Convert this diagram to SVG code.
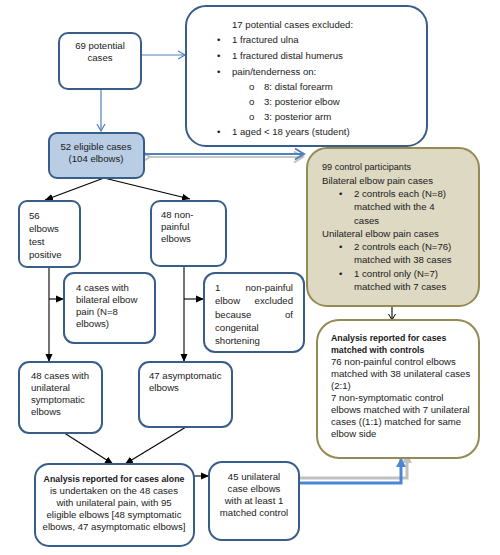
<svg xmlns="http://www.w3.org/2000/svg" width="500" height="555" viewBox="0 0 500 555">
<style>
text{font-family:"Liberation Sans",Arial,sans-serif;font-size:9.6px;fill:#1a1a1a}
.b{font-weight:bold;font-size:8.8px}
.s{font-size:9.1px}
.c{text-anchor:middle}
.r{text-anchor:end}
.bn{fill:#fff;stroke:#385d8a;stroke-width:2}
.ol{fill:#fff;stroke:#948a54;stroke-width:2}
.blk{stroke:#000;stroke-width:1.1;fill:none}
.bl{stroke:#4f81bd;stroke-width:1.2;fill:none}
</style>
<defs>
<marker id="bo" markerWidth="10" markerHeight="10" refX="8" refY="5" orient="auto" markerUnits="userSpaceOnUse"><path d="M1,1 L8,5 L1,9" fill="none" stroke="#4f81bd" stroke-width="1.2"/></marker>
<marker id="bo2" markerWidth="14" markerHeight="14" refX="11" refY="7" orient="auto" markerUnits="userSpaceOnUse"><path d="M2,1.5 L11,7 L2,12.5" fill="none" stroke="#4f81bd" stroke-width="2"/></marker>
<marker id="go2" markerWidth="14" markerHeight="14" refX="11" refY="7" orient="auto" markerUnits="userSpaceOnUse"><path d="M2,1.5 L11,7 L2,12.5" fill="none" stroke="#c0c0c0" stroke-width="2"/></marker>
<marker id="kf" markerWidth="10" markerHeight="10" refX="8" refY="4" orient="auto" markerUnits="userSpaceOnUse"><path d="M0,0.5 L8,4 L0,7.5 Z" fill="#000"/></marker>
<marker id="ko" markerWidth="10" markerHeight="10" refX="7" refY="4" orient="auto" markerUnits="userSpaceOnUse"><path d="M1,0.5 L7,4 L1,7.5" fill="none" stroke="#000" stroke-width="1"/></marker>
<marker id="ub" markerWidth="12" markerHeight="12" refX="9" refY="5" orient="auto" markerUnits="userSpaceOnUse"><path d="M0,0 L9,5 L0,10 Z" fill="#4a86d8"/></marker>
<marker id="ug" markerWidth="12" markerHeight="12" refX="9" refY="5" orient="auto" markerUnits="userSpaceOnUse"><path d="M0,0 L9,5 L0,10 Z" fill="#c0c0c0"/></marker>
</defs>

<g id="connectors">
<line x1="141" y1="55" x2="185" y2="55" class="bl" marker-end="url(#bo)"/>
<line x1="101" y1="89" x2="101" y2="131" class="bl" marker-end="url(#bo)"/>
<line x1="150" y1="157" x2="303" y2="157" stroke="#c8c8c8" stroke-width="2.2" marker-start="url(#go2)" marker-end="url(#go2)"/>
<line x1="146" y1="154" x2="304" y2="154" stroke="#4f81bd" stroke-width="2" marker-start="url(#bo2)" marker-end="url(#bo2)"/>
<line x1="104" y1="178" x2="45" y2="200" class="blk" marker-end="url(#kf)"/>
<line x1="104" y1="178" x2="190" y2="199" class="blk" marker-end="url(#kf)"/>
<line x1="49" y1="267" x2="49" y2="362" class="blk" marker-end="url(#kf)"/>
<line x1="49" y1="299" x2="64" y2="299" class="blk" marker-end="url(#kf)"/>
<line x1="184" y1="266" x2="184" y2="362" class="blk" marker-end="url(#kf)"/>
<line x1="184" y1="299" x2="204" y2="299" class="blk" marker-end="url(#kf)"/>
<line x1="58" y1="429" x2="113" y2="464" class="blk" marker-end="url(#kf)"/>
<line x1="186" y1="427" x2="125" y2="464" class="blk" marker-end="url(#kf)"/>
<line x1="194" y1="476" x2="209" y2="476" class="blk" marker-end="url(#kf)"/>
<line x1="392" y1="306" x2="392" y2="320" class="blk" stroke-width="1" marker-end="url(#ko)"/>
<path d="M299,478 H407 V454" fill="none" stroke="#c0c0c0" stroke-width="3" marker-end="url(#ug)"/>
<path d="M299,483 H401 V458" fill="none" stroke="#4a86d8" stroke-width="3" marker-end="url(#ub)"/>
</g>

<g id="n69">
<rect x="59" y="33" width="82" height="56" rx="9" class="bn"/>
<text x="100" y="49" class="c">69 potential</text>
<text x="100" y="61" class="c">cases</text>
</g>

<g id="excluded">
<rect x="186" y="6" width="241" height="140" rx="20" class="bn"/>
<text x="232" y="27.5">17  potential cases excluded:</text>
<text x="217" y="42.5">•</text><text x="232" y="42.5">1 fractured ulna</text>
<text x="217" y="58.5">•</text><text x="232" y="58.5">1 fractured distal humerus</text>
<text x="217" y="74.5">•</text><text x="232" y="74.5">pain/tenderness on:</text>
<text x="249" y="89.5">o</text><text x="264" y="89.5">8: distal forearm</text>
<text x="249" y="104.5">o</text><text x="264" y="104.5">3: posterior elbow</text>
<text x="249" y="119.5">o</text><text x="264" y="119.5">3: posterior arm</text>
<text x="217" y="134.5">•</text><text x="232" y="134.5">1 aged &lt; 18 years (student)</text>
</g>

<g id="eligible">
<rect x="49" y="133" width="95" height="45" rx="8" fill="#b9cde5" stroke="#385d8a" stroke-width="2"/>
<text x="96" y="150" class="c">52 eligible cases</text>
<text x="96" y="162" class="c">(104 elbows)</text>
</g>

<g id="control">
<rect x="307" y="148" width="172" height="158" rx="20" fill="#ddd9c3" stroke="#948a54" stroke-width="2"/>
<text x="322" y="170" class="s">99 control participants</text>
<text x="322" y="183.5">Bilateral elbow pain cases</text>
<text x="339" y="196.5">•</text><text x="354" y="196.5">2 controls each (N=8)</text>
<text x="354" y="210">matched with the 4</text>
<text x="354" y="223.5">cases</text>
<text x="322" y="236.5">Unilateral elbow pain cases</text>
<text x="339" y="250">•</text><text x="354" y="250">2 controls each (N=76)</text>
<text x="354" y="263">matched with 38 cases</text>
<text x="339" y="276.5">•</text><text x="354" y="276.5">1 control only (N=7)</text>
<text x="354" y="289.5">matched with 7 cases</text>
</g>

<g id="n56">
<rect x="19" y="201" width="61" height="66" rx="8" class="bn"/>
<text x="29" y="218.5">56</text>
<text x="29" y="231.5">elbows</text>
<text x="29" y="244.5">test</text>
<text x="29" y="257.5">positive</text>
</g>

<g id="n48non">
<rect x="151" y="201" width="75" height="65" rx="9" class="bn"/>
<text x="161" y="217.5">48 non-</text>
<text x="161" y="229.5">painful</text>
<text x="161" y="241.5">elbows</text>
</g>

<g id="n4cases">
<rect x="64" y="273" width="91" height="70" rx="10" class="bn"/>
<text x="76" y="290.5">4 cases with</text>
<text x="76" y="302.5">bilateral elbow</text>
<text x="76" y="314.5">pain (N=8</text>
<text x="76" y="326.5">elbows)</text>
</g>

<g id="n1excl">
<rect x="204" y="273" width="100" height="79" rx="11" class="bn"/>
<text x="215" y="290.5">1</text><text x="293" y="290.5" class="r">non-painful</text>
<text x="215" y="304">elbow</text><text x="293" y="304" class="r">excluded</text>
<text x="215" y="317.5">because</text><text x="293" y="317.5" class="r">of</text>
<text x="215" y="330.5">congenital</text>
<text x="215" y="343.5">shortening</text>
</g>

<g id="n48uni">
<rect x="19" y="362" width="83" height="71" rx="10" class="bn"/>
<text x="31" y="378.5">48 cases with</text>
<text x="31" y="390.5">unilateral</text>
<text x="31" y="402.5">symptomatic</text>
<text x="31" y="414.5">elbows</text>
</g>

<g id="n47">
<rect x="139" y="362" width="93" height="65" rx="10" class="bn"/>
<text x="149" y="378.5">47 asymptomatic</text>
<text x="149" y="390.5">elbows</text>
</g>

<g id="alone">
<rect x="35" y="464" width="159" height="82" rx="14" class="bn"/>
<text x="114" y="481.5" class="c b">Analysis reported for cases alone</text>
<text x="114" y="493.5" class="c">is undertaken on the 48 cases</text>
<text x="114" y="505.5" class="c">with unilateral pain, with 95</text>
<text x="114" y="517.5" class="c">eligible elbows [48 symptomatic</text>
<text x="114" y="529.5" class="c">elbows, 47 asymptomatic elbows]</text>
</g>

<g id="n45">
<rect x="209" y="462" width="90" height="78" rx="13" class="bn"/>
<text x="254" y="479.5" class="c">45 unilateral</text>
<text x="254" y="491.5" class="c">case elbows</text>
<text x="254" y="503.5" class="c">with at least 1</text>
<text x="254" y="515.5" class="c">matched control</text>
</g>

<g id="matched">
<rect x="317" y="320" width="162" height="138" rx="22" class="ol"/>
<text x="331" y="340.5" class="b">Analysis reported for cases</text>
<text x="331" y="352.5" class="b">matched with controls</text>
<text x="331" y="365">76 non-painful control elbows</text>
<text x="331" y="377">matched with 38 unilateral cases</text>
<text x="331" y="389">(2:1)</text>
<text x="331" y="401">7 non-symptomatic control</text>
<text x="331" y="413">elbows matched with 7 unilateral</text>
<text x="331" y="425">cases ((1:1) matched for same</text>
<text x="331" y="437">elbow side</text>
</g>
</svg>
